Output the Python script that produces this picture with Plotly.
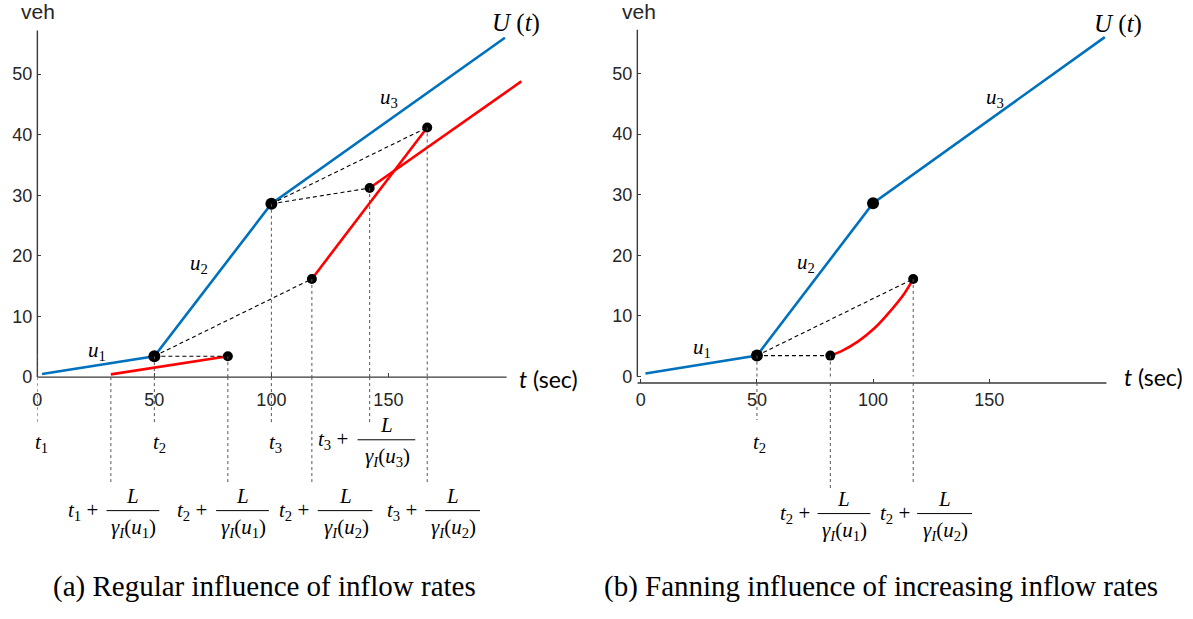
import plotly.graph_objects as go

W, H = 1193, 619

# ---------------- data ----------------
# cumulative upstream count U(t) (same in both panels)
U_T = [2.0, 50, 100, 199.8]
U_V = [0.5, 3.45, 28.6, 56.0]

# panel (a): red downstream curves
RA1_T = [31.4, 81.4]
RA1_V = [0.45, 3.45]
RA2_T = [117.3, 166.6]
RA2_V = [16.2, 41.2]
RA3_T = [142.0, 206.8]
RA3_V = [31.2, 48.8]

KNOT_T = [50, 100]
KNOT_V = [3.45, 28.6]
DOTA_T = [81.4, 117.3, 142.0, 166.6]
DOTA_V = [3.45, 16.2, 31.2, 41.2]

# dashed characteristics panel (a): (index into knots, index into dots)
DASHA = [(0, 0), (0, 1), (1, 2), (1, 3)]

# panel (b): fanning red curve
RB_T = [81.6, 86.4, 93.6, 100.7, 107.9, 113.5, 117.3]
RB_V = [3.45, 4.2, 5.8, 8.0, 11.0, 13.7, 16.1]
DOTB_T = [81.6, 117.3]
DOTB_V = [3.45, 16.1]
DASHB = [(0, 0), (0, 1)]

X_TICKS = [0, 50, 100, 150]
Y_TICKS = [0, 10, 20, 30, 40, 50]

BLUE = "#0072BD"
RED = "#FF0000"
AX = "#3a3a3a"
TXT = "#262626"
SERIF = "Liberation Serif"
SANS = "Liberation Sans"

# ---------------- pixel geometry ----------------
def PX(px):
    return px / W

def PY(py):
    return 1 - py / H

# panel a: t=0 at px 32.5, 2.35 px/s ; v=0 at py 383.3, 6.16 px/veh
A_X0, A_SX, A_Y0, A_SY = 32.5, 2.35, 383.3, 6.16
A_XR, A_YR = [0, 215], [0, 60]
A_AXIS_Y = 383.3           # x-axis line pixel row
A_AXIS_X = 32.5            # y-axis line pixel column
# panel b
B_X0, B_SX, B_Y0, B_SY = 638.5, 2.332, 382.7, 6.16
B_AXIS_Y = 389.3
B_AXIS_X = 635.0
B_XR = [-(B_X0 - B_AXIS_X) / B_SX, 215]
B_YR = [-(B_AXIS_Y - B_Y0) / B_SY, 60]

fig = go.Figure()

def add_lines(xa, ya, t, v, color, width=2.6, dash=None, shape="linear"):
    fig.add_trace(go.Scatter(x=t, y=v, mode="lines", xaxis=xa, yaxis=ya,
                             line=dict(color=color, width=width, dash=dash, shape=shape),
                             hoverinfo="skip", showlegend=False))

def add_dots(xa, ya, t, v, size):
    fig.add_trace(go.Scatter(x=t, y=v, mode="markers", xaxis=xa, yaxis=ya,
                             marker=dict(color="black", size=size),
                             hoverinfo="skip", showlegend=False))

# panel a
add_lines("x", "y", U_T, U_V, BLUE)
add_lines("x", "y", RA1_T, RA1_V, RED)
add_lines("x", "y", RA2_T, RA2_V, RED)
add_lines("x", "y", RA3_T, RA3_V, RED)
for i, j in DASHA:
    add_lines("x", "y", [KNOT_T[i], DOTA_T[j]], [KNOT_V[i], DOTA_V[j]], "black", 1.1, "4px,3px")
add_dots("x", "y", KNOT_T, KNOT_V, 12)
add_dots("x", "y", DOTA_T, DOTA_V, 10)

# panel b
add_lines("x2", "y2", U_T, U_V, BLUE)
add_lines("x2", "y2", RB_T, RB_V, RED, shape="spline")
for i, j in DASHB:
    add_lines("x2", "y2", [KNOT_T[i], DOTB_T[j]], [KNOT_V[i], DOTB_V[j]], "black", 1.1, "4px,3px")
add_dots("x2", "y2", KNOT_T, KNOT_V, 12)
add_dots("x2", "y2", DOTB_T, DOTB_V, 10)

shapes = []
annotations = []

def axis_lines(xref, yref, t_start, axis_x_px, axis_y_px):
    shapes.append(dict(type="line", xref=xref, yref="paper", x0=t_start, x1=200.5,
                       y0=PY(axis_y_px), y1=PY(axis_y_px), line=dict(color=AX, width=1.4)))
    shapes.append(dict(type="line", xref="paper", yref=yref, x0=PX(axis_x_px), x1=PX(axis_x_px),
                       y0=0, y1=57.2, line=dict(color=AX, width=1.4)))

def vdot(xref, yref, t, v_top, axis_py, bottom_py):
    ln = dict(color="#555555", width=1, dash="dot")
    if v_top > 0:
        shapes.append(dict(type="line", xref=xref, yref=yref, x0=t, x1=t, y0=v_top, y1=0, line=ln))
    shapes.append(dict(type="line", xref=xref, yref="paper", x0=t, x1=t,
                       y0=PY(axis_py), y1=PY(bottom_py), line=ln))

axis_lines("x", "y", A_XR[0], A_AXIS_X, A_AXIS_Y)
axis_lines("x2", "y2", B_XR[0], B_AXIS_X, B_AXIS_Y)

# panel a dotted guides
vdot("x", "y", 0, 3.8, A_AXIS_Y, 432)
vdot("x", "y", KNOT_T[0], KNOT_V[0], A_AXIS_Y, 432)
vdot("x", "y", KNOT_T[1], KNOT_V[1], A_AXIS_Y, 432)
vdot("x", "y", RA1_T[0], 0, A_AXIS_Y, 493)
vdot("x", "y", DOTA_T[0], DOTA_V[0], A_AXIS_Y, 493)
vdot("x", "y", DOTA_T[1], DOTA_V[1], A_AXIS_Y, 493)
vdot("x", "y", DOTA_T[2], DOTA_V[2], A_AXIS_Y, 430)
vdot("x", "y", DOTA_T[3], DOTA_V[3], A_AXIS_Y, 493)
# panel b dotted guides
vdot("x2", "y2", KNOT_T[0], KNOT_V[0], B_AXIS_Y, 427)
vdot("x2", "y2", DOTB_T[0], DOTB_V[0], B_AXIS_Y, 496)
vdot("x2", "y2", DOTB_T[1], DOTB_V[1], B_AXIS_Y, 493)

def txt(xpx, ypx, text, size, family=SERIF, color="black", xanchor="center"):
    annotations.append(dict(xref="paper", yref="paper", x=PX(xpx), y=PY(ypx), text=text,
                            showarrow=False, xanchor=xanchor, yanchor="middle",
                            font=dict(family=family, size=size, color=color)))

def tsub(n):
    return "<i>t</i><sub>%s</sub>" % n

def frac(tn, un, tcx, bar_x0, bar_x1, bar_y, size=21):
    cx = (bar_x0 + bar_x1) / 2
    txt(tcx, bar_y, tsub(tn) + " + ", size)
    txt(cx, bar_y - 15, "<i>L</i>", size)
    txt(cx + 1, bar_y + 18, "<i>γ</i><sub><i>I</i></sub>(<i>u</i><sub>%s</sub>)" % un, size)
    shapes.append(dict(type="line", xref="paper", yref="paper", x0=PX(bar_x0), x1=PX(bar_x1),
                       y0=PY(bar_y), y1=PY(bar_y), line=dict(color="black", width=1)))

# ---- panel a texts ----
txt(33, 12, "veh", 21, SANS, TXT)
txt(513, 23, "<i>U</i> (<i>t</i>)", 25)
txt(546, 385, "<i>t</i> (sec)", 23, "Lato", "black")
txt(92, 357, "<i>u</i><sub>1</sub>", 21)
txt(195, 268, "<i>u</i><sub>2</sub>", 21)
txt(386, 100, "<i>u</i><sub>3</sub>", 21)
txt(37, 450, tsub(1), 21)
txt(155, 450, tsub(2), 21)
txt(272, 450, tsub(3), 21)
frac(3, 3, 332, 354, 412, 447)
frac(1, 1, 81, 102, 155, 519)
frac(2, 1, 191, 212, 265, 519)
frac(2, 2, 293, 314, 369, 519)
frac(3, 2, 402, 422, 477, 519)
txt(261, 596, "(a) Regular influence of inflow rates", 29)

# ---- panel b texts ----
txt(637, 12, "veh", 21, SANS, TXT)
txt(1118, 24, "<i>U</i> (<i>t</i>)", 25)
txt(1153, 383, "<i>t</i> (sec)", 23, "Lato", "black")
txt(700, 354, "<i>u</i><sub>1</sub>", 21)
txt(804, 267, "<i>u</i><sub>2</sub>", 21)
txt(994, 100, "<i>u</i><sub>3</sub>", 21)
txt(758, 450, tsub(2), 21)
frac(2, 1, 796, 816, 869, 522)
frac(2, 2, 897, 916, 971, 522)
txt(880, 596, "(b) Fanning influence of increasing inflow rates", 29)

def xaxis_cfg(x0, sx, xr, anchor, standoff):
    left = x0 + sx * xr[0]
    return dict(domain=[PX(left), PX(left + sx * (xr[1] - xr[0]))], range=xr, anchor=anchor,
                showgrid=False, zeroline=False, showline=False,
                tickvals=X_TICKS, ticktext=[str(v) for v in X_TICKS],
                ticks="inside", ticklen=4, tickcolor=AX, tickwidth=1,
                tickfont=dict(family=SANS, size=18, color=TXT), ticklabelstandoff=standoff,
                fixedrange=True)

def yaxis_cfg(y0, sy, yr, anchor):
    bottom = y0 - sy * yr[0]
    return dict(domain=[PY(bottom), PY(bottom - sy * (yr[1] - yr[0]))], range=yr, anchor=anchor,
                showgrid=False, zeroline=False, showline=False,
                tickvals=Y_TICKS, ticktext=[str(v) for v in Y_TICKS],
                ticks="inside", ticklen=4, tickcolor=AX, tickwidth=1,
                tickfont=dict(family=SANS, size=18, color=TXT), ticklabelstandoff=4,
                fixedrange=True)

fig.update_layout(
    width=W, height=H,
    margin=dict(l=0, r=0, t=0, b=0),
    paper_bgcolor="white", plot_bgcolor="rgba(0,0,0,0)",
    showlegend=False,
    xaxis=xaxis_cfg(A_X0, A_SX, A_XR, "y", 10),
    yaxis=yaxis_cfg(A_Y0, A_SY, A_YR, "x"),
    xaxis2=xaxis_cfg(B_X0, B_SX, B_XR, "y2", 4),
    yaxis2=yaxis_cfg(B_Y0, B_SY, B_YR, "x2"),
    shapes=shapes,
    annotations=annotations,
)

fig.write_html("out.html", config={"displayModeBar": False},
               post_script="document.body.style.margin='0';document.body.style.overflow='hidden';")
